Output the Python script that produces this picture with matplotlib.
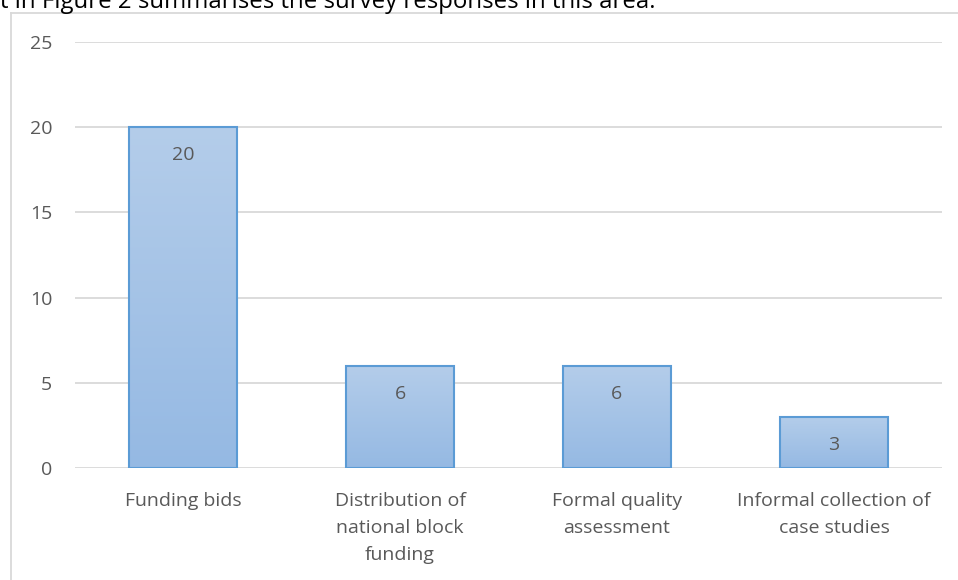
import matplotlib
matplotlib.use("Agg")
import matplotlib.pyplot as plt
import numpy as np
from matplotlib.lines import Line2D
from matplotlib.colors import LinearSegmentedColormap

categories = ["Funding bids", "Distribution of\nnational block\nfunding",
              "Formal quality\nassessment", "Informal collection of\ncase studies"]
values = [20, 6, 6, 3]
yticks = [0, 5, 10, 15, 20, 25]

plt.rcParams['font.family'] = ['Open Sans', 'DejaVu Sans']
fig = plt.figure(figsize=(9.58, 5.8), dpi=100)
ax = fig.add_axes([0.0778, 0.1931, 0.9838 - 0.0778, 0.9276 - 0.1931])

x = np.arange(len(categories))
bars = ax.bar(x, values, width=0.5, color='none', edgecolor='#5b9bd5', linewidth=1.5, zorder=3)

grad = np.linspace(0, 1, 256).reshape(-1, 1)
cmap = LinearSegmentedColormap.from_list('g', ['#95b9e3', '#b4cdea'])
for b in bars:
    x0, y0 = b.get_x(), b.get_y()
    w, h = b.get_width(), b.get_height()
    im = ax.imshow(grad, cmap=cmap, aspect='auto', origin='lower',
                   extent=[x0, x0 + w, y0, y0 + h], zorder=2)
    im.set_clip_path(b)
    ax.text(x0 + w / 2, y0 + h - 1.65, f"{int(h)}", ha='center', va='center',
            fontsize=14, color='#595959', zorder=4)

ax.set_xlim(-0.5, len(categories) - 0.5)
ax.set_ylim(0, 25)
ax.set_yticks(yticks)
ax.set_yticklabels([str(t) for t in yticks], fontsize=14, color='#595959')
ax.set_xticks(x)
ax.set_xticklabels(categories, fontsize=14, color='#595959', linespacing=1.65)
ax.tick_params(length=0)
ax.tick_params(axis='y', pad=16)
ax.tick_params(axis='x', pad=17)
ax.grid(axis='y', color='#d9d9d9', linewidth=1.3, zorder=0)
for s in ax.spines.values():
    s.set_visible(False)
ax.set_axisbelow(True)

fig.add_artist(Line2D([11 / 958, 11 / 958], [0, 1 - 13 / 580], transform=fig.transFigure,
                      color='#d9d9d9', linewidth=1.3))
fig.add_artist(Line2D([11 / 958, 1], [1 - 13 / 580, 1 - 13 / 580], transform=fig.transFigure,
                      color='#d9d9d9', linewidth=1.3))

fig.text(0.0, 1 - 8 / 580, "t in Figure 2 summarises the survey responses in this area.",
         fontsize=17.3, color='black', ha='left', va='baseline')

fig.savefig("out.png", dpi=100)
